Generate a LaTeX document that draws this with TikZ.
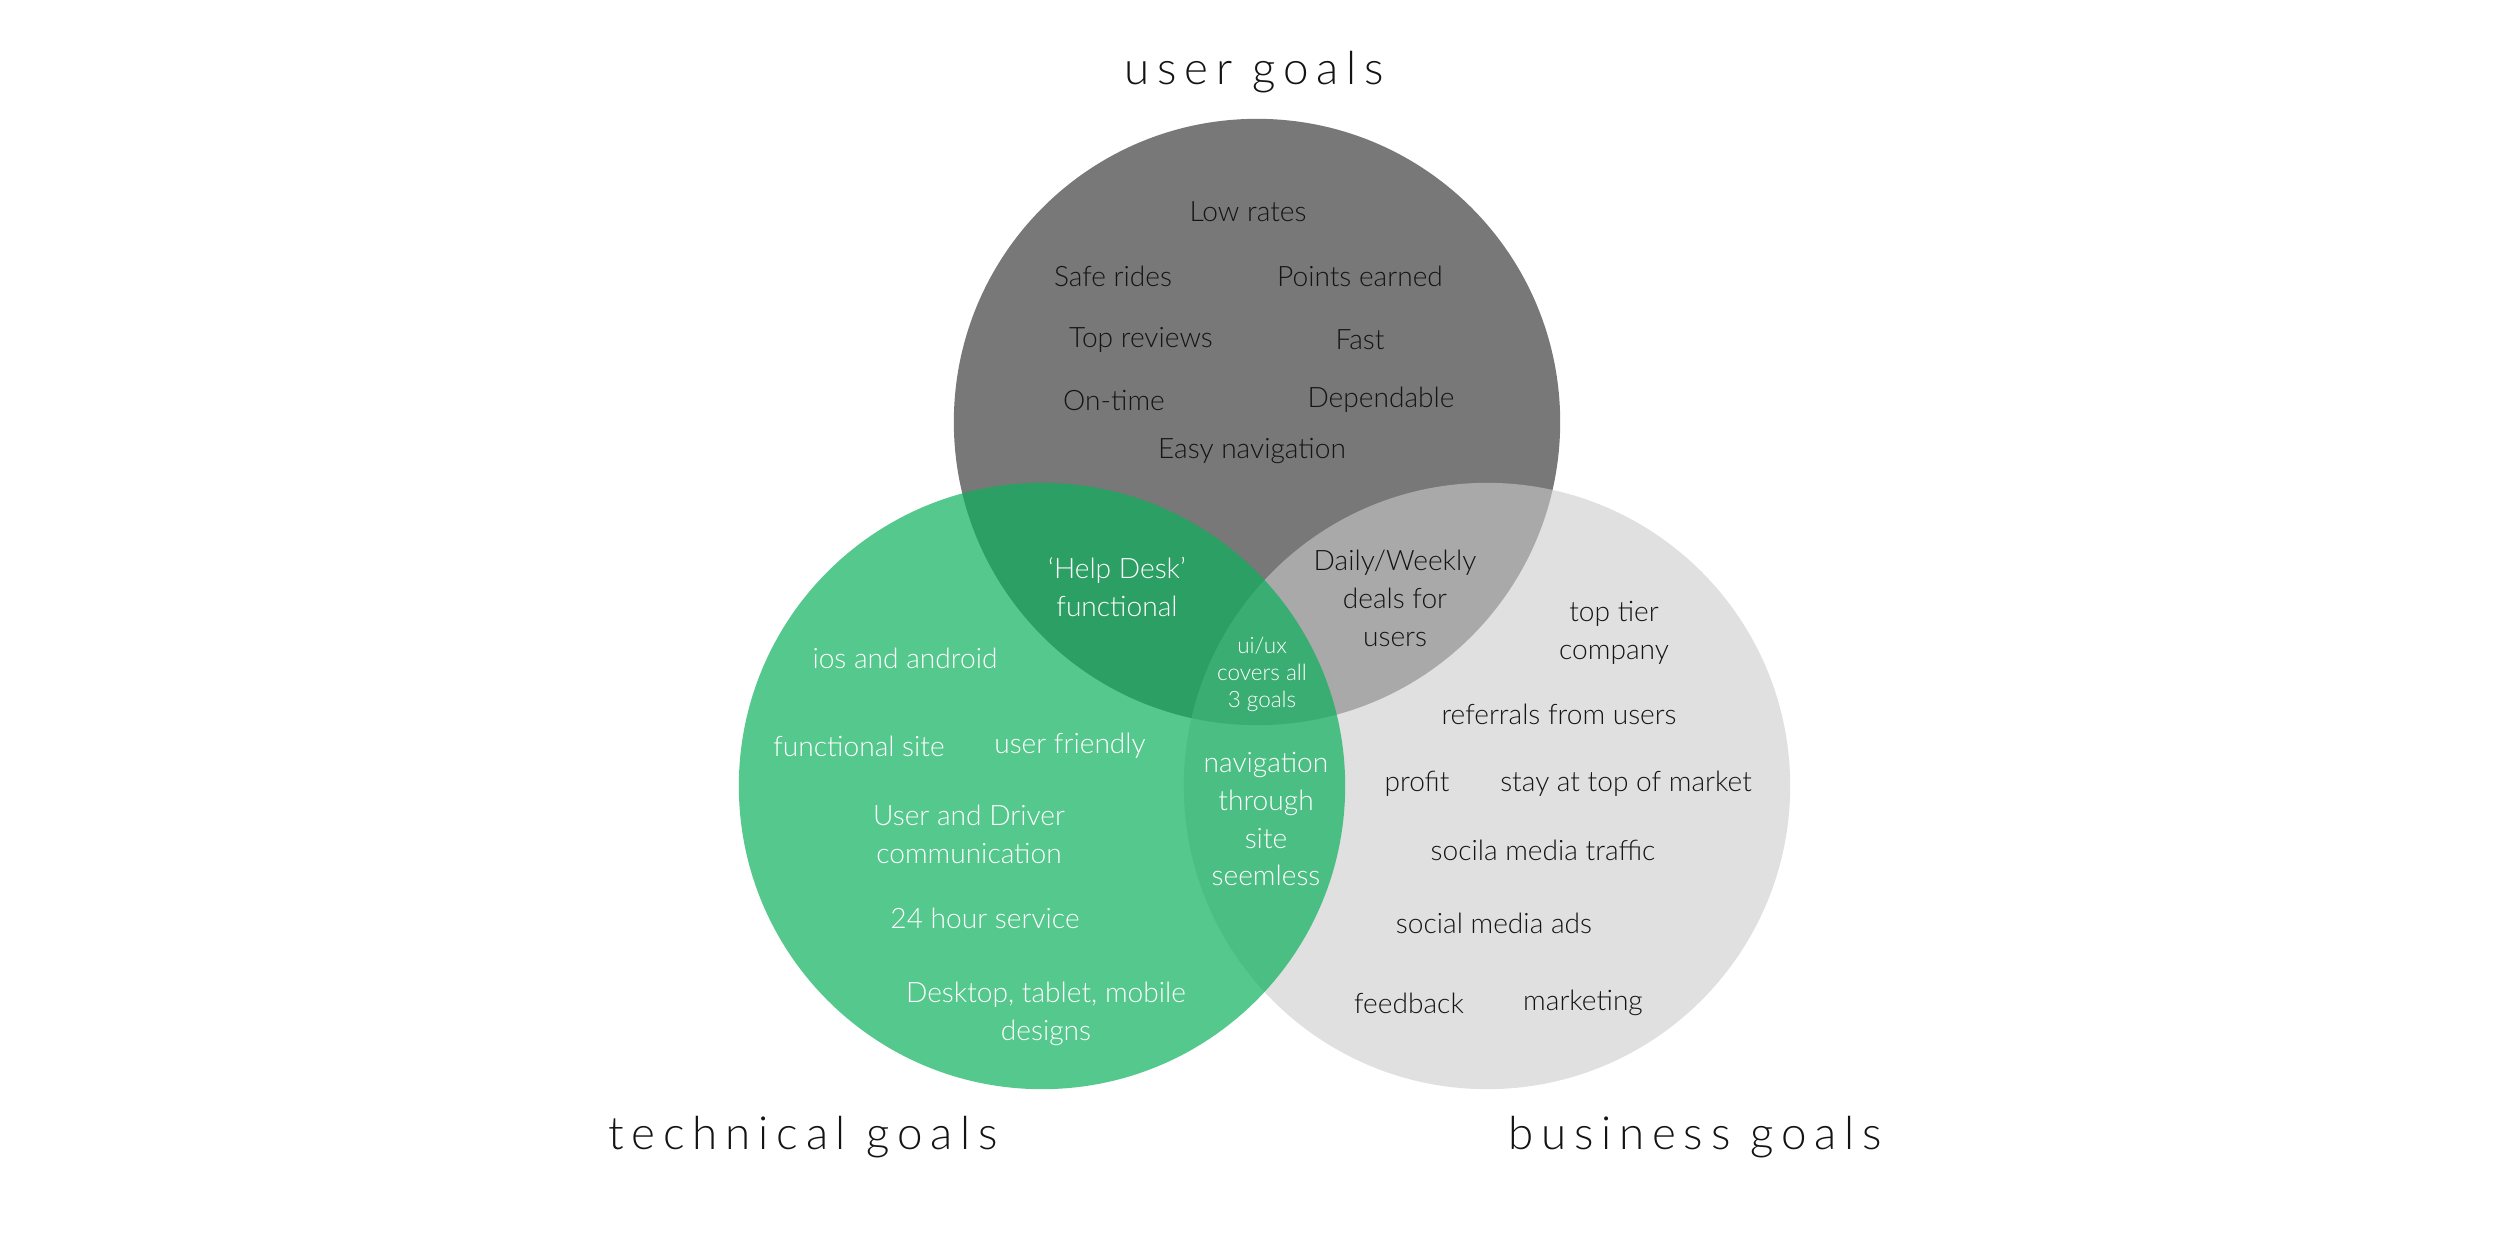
\documentclass[tikz,border=0pt]{standalone}
\usepackage{fontspec}
\setmainfont{Lato Light}
\definecolor{usergray}{RGB}{120,120,120}
\definecolor{bizgray}{RGB}{203,203,203}
\definecolor{techgreen}{RGB}{12,176,92}
\definecolor{inktext}{RGB}{20,20,20}

\begin{document}
\begin{tikzpicture}[x=0.01cm,y=-0.01cm,
    goal/.style={font=\fontsize{8}{10.8}\selectfont,align=center,inner sep=0pt},
    darkgoal/.style={goal,text=inktext},
    lightgoal/.style={goal,text=white},
    smallgoal/.style={lightgoal,font=\fontsize{6.4}{7.7}\selectfont},
    goaltitle/.style={font=\fontsize{13}{15}\selectfont\addfontfeatures{LetterSpace=17},text=inktext,inner sep=0pt}]
  \useasboundingbox (0,0) rectangle (2500,1242);
  % circles
  \fill[usergray] (1257,422) circle (3.03cm);
  \fill[bizgray,fill opacity=0.6] (1487,786) circle (3.03cm);
  \fill[techgreen,fill opacity=0.7] (1042,786) circle (3.03cm);
  % titles
  \node[goaltitle] (usertitle) at (1254,72) {user goals};
  \node[goaltitle] (techtitle) at (803,1137) {technical goals};
  \node[goaltitle] (biztitle) at (1695,1137) {business goals};
  % user goals
  \node[darkgoal] (lowrates) at (1248,212) {Low rates};
  \node[darkgoal] (saferides) at (1113,276) {Safe rides};
  \node[darkgoal] (points) at (1360,276) {Points earned};
  \node[darkgoal] (reviews) at (1141,340) {Top reviews};
  \node[darkgoal] (fast) at (1360,340) {Fast};
  \node[darkgoal] (ontime) at (1114,400) {On-time};
  \node[darkgoal] (dependable) at (1381,400) {Dependable};
  \node[darkgoal] (easynav) at (1252,451) {Easy navigation};
  % technical goals
  \node[lightgoal] (helpdesk) at (1117,587) {`Help Desk'\\functional};
  \node[lightgoal] (ios) at (905,658) {ios and android};
  \node[lightgoal] (funcsite) at (859,746) {functional site};
  \node[lightgoal] (friendly) at (1070,746) {user friendly};
  \node[lightgoal] (driver) at (969,834) {User and Driver\\communication};
  \node[lightgoal] (service) at (985,918) {24 hour service};
  \node[lightgoal] (designs) at (1046,1014) {Desktop, tablet, mobile\\designs};
  \node[smallgoal] (uiux) at (1262,674) {ui/ux\\covers all\\3 goals};
  \node[lightgoal] (seamless) at (1266,819) {navigation\\through\\site\\seemless};
  % business goals
  \node[darkgoal] (deals) at (1395,598) {Daily/Weekly\\deals for\\users};
  \node[darkgoal] (toptier) at (1614,633) {top tier\\company};
  \node[darkgoal] (referrals) at (1559,714) {referrals from users};
  \node[darkgoal] (profit) at (1417,784) {profit};
  \node[darkgoal] (market) at (1626,784) {stay at top of market};
  \node[darkgoal] (traffic) at (1543,850) {socila media traffic};
  \node[darkgoal] (ads) at (1494,923) {social media ads};
  \node[darkgoal] (feedback) at (1409,1003) {feedback};
  \node[darkgoal] (marketing) at (1583,1003) {marketing};
\end{tikzpicture}
\end{document}
